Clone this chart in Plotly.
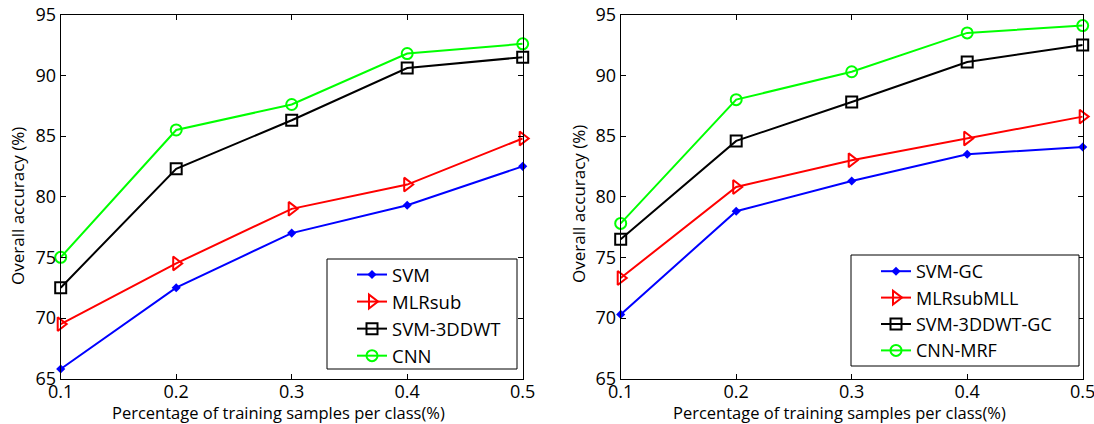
import plotly.graph_objects as go

x_vals = [0.1, 0.2, 0.3, 0.4, 0.5]

# Left panel
svm = [65.8, 72.5, 77.0, 79.3, 82.5]
mlrsub = [69.5, 74.5, 79.0, 81.0, 84.8]
svm_3ddwt = [72.5, 82.3, 86.3, 90.6, 91.5]
cnn = [75.0, 85.5, 87.6, 91.8, 92.6]
left_names = ["SVM", "MLRsub", "SVM-3DDWT", "CNN"]

# Right panel
svm_gc = [70.3, 78.8, 81.3, 83.5, 84.1]
mlrsub_mll = [73.3, 80.8, 83.0, 84.8, 86.6]
svm_3ddwt_gc = [76.5, 84.6, 87.8, 91.1, 92.5]
cnn_mrf = [77.8, 88.0, 90.3, 93.5, 94.1]
right_names = ["SVM-GC", "MLRsubMLL", "SVM-3DDWT-GC", "CNN-MRF"]

y_ticks = [65, 70, 75, 80, 85, 90, 95]
x_ticks = [0.1, 0.2, 0.3, 0.4, 0.5]
x_title = "Percentage of training samples per class(%)"
y_title = "Overall accuracy (%)"

FONT = "Open Sans"
W, H = 1094, 424
colors = ["rgb(0,0,255)", "rgb(255,0,0)", "rgb(0,0,0)", "rgb(0,255,0)"]
markers = [
    dict(symbol="diamond", size=7),
    dict(symbol="triangle-right-open", size=12, line=dict(width=2)),
    dict(symbol="square-open", size=11, line=dict(width=2)),
    dict(symbol="circle-open", size=11, line=dict(width=2)),
]

fig = go.Figure()

for i, (name, ys) in enumerate(zip(left_names, [svm, mlrsub, svm_3ddwt, cnn])):
    fig.add_trace(go.Scatter(
        x=x_vals, y=ys, name=name, mode="lines+markers",
        line=dict(color=colors[i], width=2),
        marker=dict(color=colors[i], **markers[i]),
        xaxis="x", yaxis="y", legend="legend",
        cliponaxis=False,
    ))

for i, (name, ys) in enumerate(zip(right_names, [svm_gc, mlrsub_mll, svm_3ddwt_gc, cnn_mrf])):
    fig.add_trace(go.Scatter(
        x=x_vals, y=ys, name=name, mode="lines+markers",
        line=dict(color=colors[i], width=2),
        marker=dict(color=colors[i], **markers[i]),
        xaxis="x2", yaxis="y2", legend="legend2",
        cliponaxis=False,
    ))

axis_common = dict(
    showline=True, linecolor="black", linewidth=1, mirror="ticks",
    ticks="inside", ticklen=5, tickcolor="black", tickwidth=1,
    showgrid=False, zeroline=False, automargin=False,
    ticklabeloverflow="allow",
    tickfont=dict(family=FONT, size=18, color="black"),
)
x_extra = dict(ticklabelstandoff=-3)

ydom = [(H - 378.7) / H, (H - 14.7) / H]
fig.update_layout(
    width=W, height=H,
    margin=dict(l=0, r=0, t=0, b=0, autoexpand=False),
    paper_bgcolor="white", plot_bgcolor="white",
    showlegend=True,
    xaxis=dict(domain=[60.7 / W, 522.7 / W], range=[0.1, 0.5],
               tickvals=x_ticks, ticktext=[str(v) for v in x_ticks],
               anchor="y", **axis_common, **x_extra),
    yaxis=dict(domain=ydom, range=[65, 95], tickvals=y_ticks,
               anchor="x", **axis_common),
    xaxis2=dict(domain=[620.7 / W, 1082.7 / W], range=[0.1, 0.5],
                tickvals=x_ticks, ticktext=[str(v) for v in x_ticks],
                anchor="y2", **axis_common, **x_extra),
    yaxis2=dict(domain=ydom, range=[65, 95], tickvals=y_ticks,
                anchor="x2", **axis_common),
    legend=dict(x=352 / W, y=(H - 256) / H, xanchor="left", yanchor="top",
                borderwidth=0, bgcolor="rgba(0,0,0,0)",
                font=dict(family=FONT, size=18.5, color="black")),
    legend2=dict(x=876 / W, y=(H - 253) / H, xanchor="left", yanchor="top",
                 borderwidth=0, bgcolor="rgba(0,0,0,0)",
                 font=dict(family=FONT, size=18, color="black")),
)

# legend frames
for (x0, y0, x1, y1) in [(327, 259, 517, 369), (851, 255, 1079, 366)]:
    fig.add_shape(type="rect", xref="paper", yref="paper",
                  x0=x0 / W, x1=x1 / W, y0=(H - y1) / H, y1=(H - y0) / H,
                  line=dict(color="black", width=1), fillcolor="white", layer="above")

for cx, cy_x, cy in [(278, 18, 206), (839, 578, 204)]:
    fig.add_annotation(text=x_title, x=cx / W, y=(H - 412) / H,
                       xref="paper", yref="paper", showarrow=False,
                       xanchor="center", yanchor="middle", borderpad=0,
                       font=dict(family=FONT, size=16.5, color="black"))
    fig.add_annotation(text=y_title, x=cy_x / W, y=(H - cy) / H,
                       xref="paper", yref="paper", showarrow=False, textangle=-90,
                       xanchor="center", yanchor="middle",
                       font=dict(family=FONT, size=17, color="black"))

fig.write_html("out.html", config={"displayModeBar": False},
               post_script="document.body.style.margin='0px';document.body.style.overflow='hidden';")
